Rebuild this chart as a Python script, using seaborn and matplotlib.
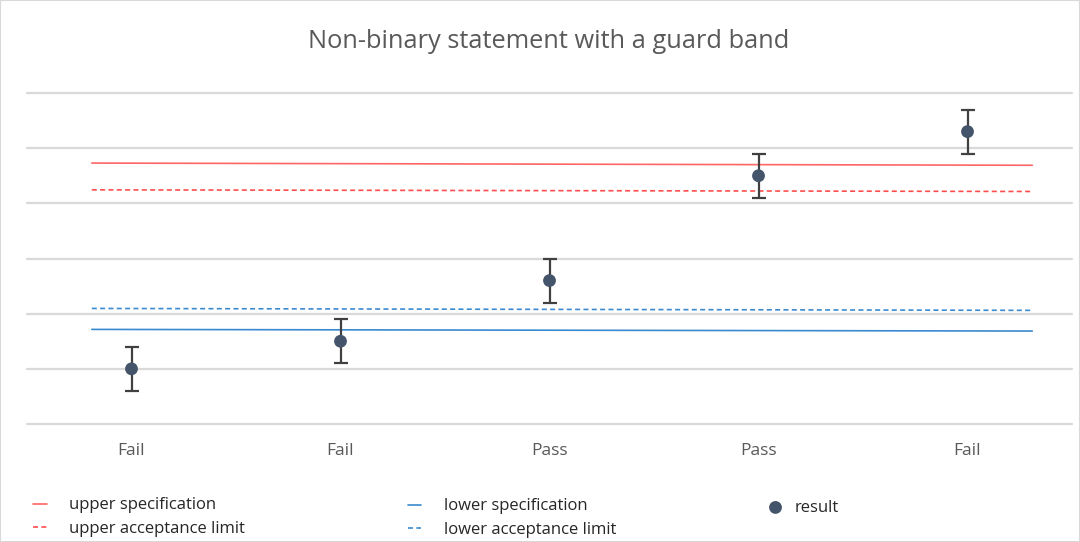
import numpy as np
import pandas as pd
import matplotlib
matplotlib.use("Agg")
import matplotlib.pyplot as plt
import seaborn as sns

# Data
categories = ["Fail", "Fail", "Pass", "Pass", "Fail"]
results = [1.0, 1.5, 2.6, 4.5, 5.3]
uncertainty = [0.4, 0.4, 0.4, 0.4, 0.4]

# limit lines: value at left end, value at right end
upper_spec = [4.73, 4.69]
upper_accept = [4.245, 4.215]
lower_accept = [2.095, 2.06]
lower_spec = [1.715, 1.685]
line_span = [-0.19, 4.31]

sns.set_theme(style="white")
plt.rcParams["font.family"] = ["Open Sans", "DejaVu Sans"]

fig = plt.figure(figsize=(10.8, 5.42), dpi=100)
ax = fig.add_axes([0.025, 0.2177, 0.9676, 0.6107])

x = np.arange(len(categories))

for vals, color, ls, label in [
    (upper_spec, "#FF6666", "-", "upper specification"),
    (upper_accept, "#FF4D4D", (0, (3, 2)), "upper acceptance limit"),
    (lower_spec, "#3A8AD0", "-", "lower specification"),
    (lower_accept, "#3A8AD0", (0, (3, 2)), "lower acceptance limit"),
]:
    df = pd.DataFrame({"x": line_span, "y": vals})
    sns.lineplot(data=df, x="x", y="y", ax=ax, color=color, linestyle=ls,
                 linewidth=1.2, label=label, legend=False)

ax.errorbar(x, results, yerr=uncertainty, fmt="none", ecolor="#404040",
            elinewidth=1.6, capsize=5, capthick=1.6, zorder=3)
sns.scatterplot(x=x, y=results, ax=ax, color="#44546A", s=85,
                edgecolor="none", zorder=4, label="result", legend=False)

ax.set_xlim(-0.5, 4.5)
ax.set_ylim(0, 6)
ax.set_yticks(range(0, 7))
ax.set_yticklabels([])
ax.set_xticks(x)
ax.set_xticklabels(categories, color="#595959", fontsize=12.5)
ax.tick_params(axis="x", length=0, pad=14)
ax.tick_params(axis="y", length=0)
ax.set_xlabel("")
ax.set_ylabel("")
ax.grid(axis="y", color="#D9D9D9", linewidth=1.6)
ax.grid(axis="x", visible=False)
for gl in ax.get_ygridlines():
    gl.set_clip_on(False)
for s in ax.spines.values():
    s.set_visible(False)

fig.suptitle("Non-binary statement with a guard band", x=0.508, y=0.947,
             fontsize=18.3, color="#595959")

handles, labels = ax.get_legend_handles_labels()
h = dict(zip(labels, handles))
leg_kw = dict(frameon=False, fontsize=12, handlelength=0.8, handletextpad=1.35,
              labelspacing=0.45, labelcolor="#262626")
l1 = fig.legend([h["upper specification"], h["upper acceptance limit"]],
                ["upper specification", "upper acceptance limit"],
                loc="upper left", bbox_to_anchor=(0.017, 0.11), **leg_kw)
l2 = fig.legend([h["lower specification"], h["lower acceptance limit"]],
                ["lower specification", "lower acceptance limit"],
                loc="upper left", bbox_to_anchor=(0.364, 0.108), **leg_kw)
leg_kw["handletextpad"] = 0.75
l3 = fig.legend([h["result"]], ["result"], loc="upper left",
                bbox_to_anchor=(0.698, 0.1055), **leg_kw)

fig.patches.append(plt.Rectangle((0, 0), 1, 1, transform=fig.transFigure,
                                 fill=False, edgecolor="#D9D9D9", linewidth=1.5))

fig.savefig("out.png", dpi=100)
